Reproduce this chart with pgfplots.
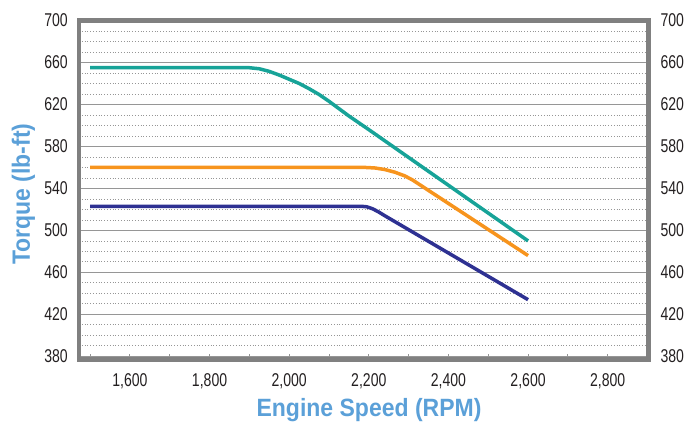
\documentclass[border=0pt]{standalone}
\usepackage{fontspec}
\setmainfont{Liberation Sans}
\newfontfamily\tickfont{Liberation Sans}[FakeStretch=0.76]
\newfontfamily\labfont{Liberation Sans}[FakeStretch=0.92]
\usepackage{pgfplots}
\pgfplotsset{compat=1.18}

\definecolor{tealc}{RGB}{23,163,152}
\definecolor{orangec}{RGB}{247,148,29}
\definecolor{navyc}{RGB}{46,49,146}
\definecolor{labblue}{RGB}{91,160,216}
\definecolor{framegray}{RGB}{128,128,128}
\definecolor{gridgray}{RGB}{150,150,150}
\definecolor{txt}{RGB}{35,31,32}

\pgfplotsset{
  torquebase/.style={
    scale only axis, width=569.3pt, height=339pt,
    xmin=1472, xmax=2902, ymin=377, ymax=700,
    ytick={380,420,...,700},
    ytick style={draw=none},
    ticklabel style={font=\tickfont\fontsize{18.5}{20}\selectfont, text=txt},
    /pgf/number format/assume math mode=true,
  }
}

\begin{document}
\begin{tikzpicture}
  \begin{axis}[
    torquebase,
    axis line style={line width=4.5pt, framegray, line join=miter},
    xtick={1600,1800,...,2800},
    minor xtick={1500,1700,...,2700},
    xtick pos=bottom, tick align=inside,
    xtick style={gridgray, line width=1pt},
    major tick length=5pt, minor tick length=5pt,
    /pgf/number format/1000 sep={,},
    xticklabel style={anchor=north, inner sep=0pt, yshift=-13.5pt},
    yticklabel style={anchor=east, inner sep=0pt, xshift=-11pt},
    ymajorgrids, yminorgrids, minor y tick num=3,
    major grid style={gridgray, line width=1pt},
    minor grid style={gridgray, line width=0.8pt, dotted},
    xlabel={Engine Speed (RPM)},
    ylabel={Torque (lb-ft)},
    label style={font=\labfont\bfseries\fontsize{25}{28}\selectfont, text=labblue},
    xlabel style={at={(axis description cs:0.5094,-0.1696)}, anchor=base},
    ylabel style={at={(axis description cs:-0.0861,0.488)}, anchor=base, rotate=0},
  ]
    \addplot[tealc, line width=3.5pt, line join=round] coordinates {
      (1500,655) (1900,655) (1925,654) (1950,651.5) (1975,648) (2000,644)
      (2025,640) (2050,635) (2075,629.5) (2100,623) (2125,616) (2150,609)
      (2175,602.5) (2200,596) (2600,490)
    };
    \addplot[orangec, line width=3.5pt, line join=round] coordinates {
      (1500,560) (2190,560) (2215,559.5) (2240,558) (2265,555.5) (2290,552)
      (2310,548) (2600,476)
    };
    \addplot[navyc, line width=3.5pt, line join=round] coordinates {
      (1500,523) (2180,523) (2195,522.5) (2210,520.5) (2225,517.5) (2240,514)
      (2600,434)
    };
  \end{axis}
  \begin{axis}[
    torquebase,
    axis line style={draw=none},
    xtick=\empty,
    yticklabel pos=right,
    yticklabel style={anchor=west, inner sep=0pt, xshift=12pt},
  ]
  \end{axis}
  \pgfresetboundingbox
  \path[use as bounding box] (-79pt,-62.5pt) rectangle (611pt,359.5pt);
\end{tikzpicture}
\end{document}
